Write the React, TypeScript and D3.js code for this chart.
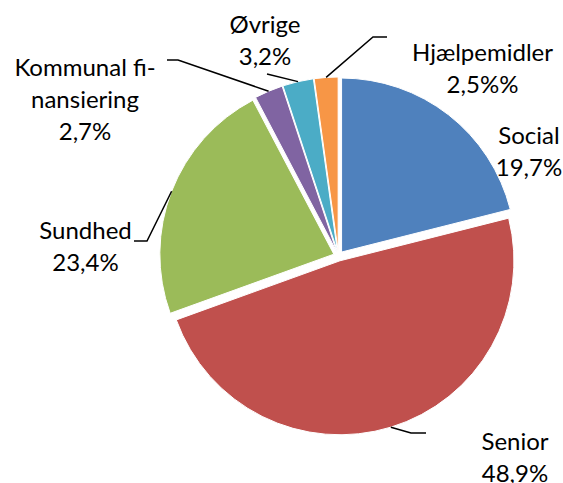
import * as d3 from 'd3';

// slice shares
const categories = ['Social', 'Senior', 'Sundhed', 'Kommunal finansiering', 'Øvrige', 'Hjælpemidler'];
const shares = [21.05, 48.4, 22.8, 2.64, 2.86, 2.2];
// label texts exactly as printed on the chart
const labelLines = [
  ['Social', '19,7%'],
  ['Senior', '48,9%'],
  ['Sundhed', '23,4%'],
  ['Kommunal fi-', 'nansiering', '2,7%'],
  ['Øvrige', '3,2%'],
  ['Hjælpemidler', '2,5%%'],
];
const colors = ['#4F81BD', '#C0504D', '#9BBB59', '#8064A2', '#4BACC6', '#F79646'];

const W = 563;
const H = 483;
const cx = 338.5;
const cy = 256;
const radius = 174;
const explode = 5;
const lineGap = 32;

// where each label sits, and the bent part of its leader line (label side first)
const labelLayout: Record<string, { x: number; y: number; leader: number[][] | null }> = {
  'Social': { x: 529, y: 143.5, leader: null },
  'Senior': { x: 515, y: 450, leader: [[426, 433], [411, 433]] },
  'Sundhed': { x: 85.5, y: 239, leader: [[134, 241], [147, 241]] },
  'Kommunal finansiering': { x: 85, y: 76, leader: [[167, 60], [178, 60]] },
  'Øvrige': { x: 265, y: 33, leader: [[267, 74]] },
  'Hjælpemidler': { x: 482.5, y: 60.5, leader: [[387, 37], [373, 37]] },
};

export default function App() {
  const data = categories.map((c, i) => ({ name: c, value: shares[i], color: colors[i], lines: labelLines[i] }));
  const pie = d3.pie<any>().sort(null).value(d => d.value).startAngle(0).endAngle(2 * Math.PI);
  const arcs = pie(data);
  const arc = d3.arc<any>().innerRadius(0).outerRadius(radius);
  const line = d3.line();

  return (
    <svg width={W} height={H} style={{ position: 'absolute', left: 0, top: 0, background: '#fff' }}
      fontFamily="Lato, 'Open Sans', sans-serif" fontSize={24}>
      <g transform={`translate(${cx},${cy})`}>
        {arcs.map((a, i) => {
          const mid = (a.startAngle + a.endAngle) / 2;
          const dx = explode * Math.sin(mid);
          const dy = -explode * Math.cos(mid);
          return (
            <path key={i} d={arc(a) || ''} transform={`translate(${dx},${dy})`}
              fill={a.data.color} stroke="#fff" strokeWidth={1} />
          );
        })}
      </g>
      {arcs.map((a, i) => {
        const lay = labelLayout[a.data.name];
        if (!lay.leader) return null;
        const mid = (a.startAngle + a.endAngle) / 2;
        const r = explode + radius;
        const px = cx + r * Math.sin(mid);
        const py = cy - r * Math.cos(mid);
        const pts = [...lay.leader, [px, py]] as [number, number][];
        return <path key={'l' + i} d={line(pts) || ''} fill="none" stroke="#000" strokeWidth={1.5} />;
      })}
      {arcs.map((a, i) => {
        const lay = labelLayout[a.data.name];
        return (
          <text key={'t' + i} x={lay.x} y={lay.y} textAnchor="middle" fill="#000">
            {a.data.lines.map((t: string, j: number) => (
              <tspan key={j} x={lay.x} y={lay.y + j * lineGap}>{t}</tspan>
            ))}
          </text>
        );
      })}
    </svg>
  );
}
